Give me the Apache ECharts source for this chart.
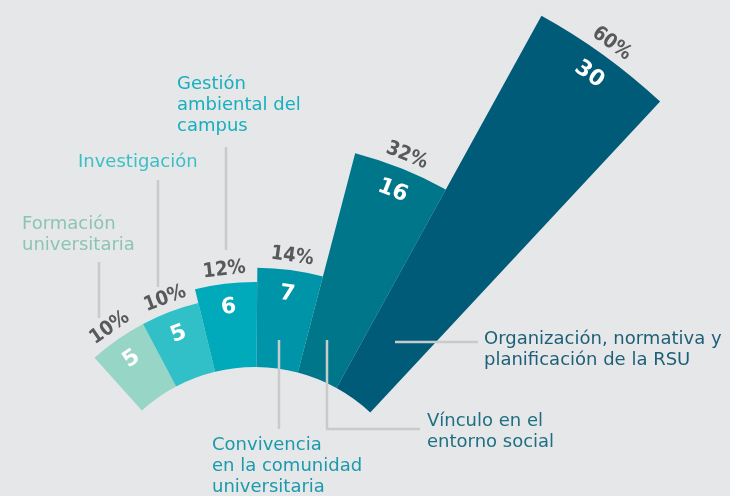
<!DOCTYPE html>
<html><head><meta charset="utf-8">
<script src="https://cdn.jsdelivr.net/npm/echarts@6/dist/echarts.min.js"></script>
<style>html,body{margin:0;padding:0;background:#e6e7e9;}#c{width:730px;height:496px;}</style>
</head><body><div id="c"></div>
<script>
var categories = ['Formación\nuniversitaria','Investigación','Gestión\nambiental del\ncampus','Convivencia\nen la comunidad\nuniversitaria','Vínculo en el\nentorno social','Organización, normativa y\nplanificación de la RSU'];
var counts = [5, 5, 6, 7, 16, 30];
var percents = [10, 10, 12, 14, 32, 60];
var colors = ['#97d5c6','#31bfc8','#00aabb','#0094a8','#00768a','#005b78'];
var textColors = ['#8cc4b2','#3bbfc6','#16afbd','#1a9aab','#1e6f82','#1d5f77'];

var CX = 255, CY = 536, R0 = 169, A0 = 132, A1 = 47;
var pxPerUnit = 425 / 30;   // radial scale
var RMAX = 34;
var R1 = R0 + pxPerUnit * RMAX;
var step = (A0 - A1) / categories.length;
function midAngle(i){ return A0 - step*(i+0.5); }

var chart = echarts.init(document.getElementById('c'));
var font = '"DejaVu Sans",sans-serif';
var fontC = '"DejaVu Sans Condensed","DejaVu Sans",sans-serif';

var barData = counts.map(function(v,i){
  return {value:v, itemStyle:{color:colors[i]}};
});
// label anchors: offset from bar end in pixels, converted to axis units
var valData = counts.map(function(v,i){
  return {value:[v - 24/pxPerUnit, i], label:{rotate: midAngle(i)-90, formatter: String(v)}};
});
var pctData = counts.map(function(v,i){
  return {value:[v + 14/pxPerUnit, i], label:{rotate: midAngle(i)-90, formatter: percents[i]+'%'}};
});

// annotation text blocks and leader lines (layout only)
var annot = [
  {x:22, y:214, lines:[[99,262],[99,318]]},
  {x:78, y:152, lines:[[158,180],[158,287]]},
  {x:177, y:74, lines:[[226,147],[226,250]]},
  {x:212, y:435, lines:[[279,340],[279,429]]},
  {x:427, y:411, lines:[[327,340],[327,429],[420,429]]},
  {x:484, y:329, lines:[[395,342],[478,342]]}
];
var graphics = [];
annot.forEach(function(a,i){
  graphics.push({type:'polyline', shape:{points:a.lines}, style:{stroke:'#c9cacc', lineWidth:2.5, fill:null}, z:10});
  graphics.push({type:'text', left:a.x, top:a.y, style:{text:categories[i], fill:textColors[i], font:'18px '+font, lineHeight:21}, z:10});
});

chart.setOption({
  backgroundColor:'#e6e7e9',
  animation:false,
  polar:{center:[CX,CY], radius:[R0,R1]},
  angleAxis:{type:'category', data:categories, startAngle:A0, endAngle:A1, clockwise:true, boundaryGap:true,
    axisLine:{show:false}, axisTick:{show:false}, axisLabel:{show:false}, splitLine:{show:false}},
  radiusAxis:{type:'value', min:0, max:RMAX, axisLine:{show:false}, axisTick:{show:false}, axisLabel:{show:false}, splitLine:{show:false}},
  graphic:graphics,
  series:[
    {type:'bar', coordinateSystem:'polar', data:barData, barCategoryGap:'0%', label:{show:false}},
    {type:'scatter', coordinateSystem:'polar', data:valData, symbolSize:0, itemStyle:{color:'transparent', opacity:1},
      label:{show:true, position:'inside', color:'#ffffff', fontFamily:font, fontWeight:'bold', fontSize:22}},
    {type:'scatter', coordinateSystem:'polar', data:pctData, symbolSize:0, itemStyle:{color:'transparent', opacity:1},
      label:{show:true, position:'inside', color:'#58595b', fontFamily:fontC, fontWeight:'bold', fontSize:20}}
  ]
});
</script></body></html>
